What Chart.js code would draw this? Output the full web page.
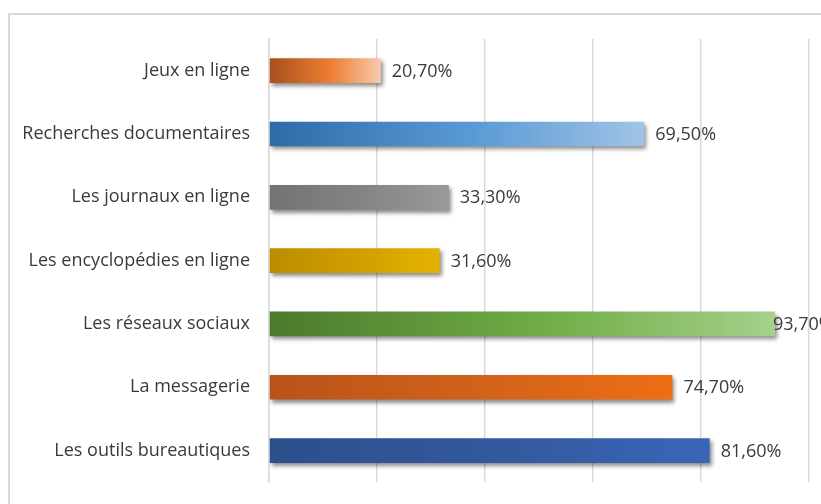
<!DOCTYPE html>
<html>
<head>
<meta charset="utf-8">
<script src="https://cdn.jsdelivr.net/npm/chart.js@4"></script>
<style>
html,body{margin:0;padding:0;background:#fff;}
#wrap{position:relative;width:821px;height:504px;}
</style>
</head>
<body>
<div id="wrap"><canvas id="c" width="821" height="504"></canvas></div>
<script>
const categories = ["Jeux en ligne","Recherches documentaires","Les journaux en ligne","Les encyclopédies en ligne","Les réseaux sociaux","La messagerie","Les outils bureautiques"];
const values = [20.7, 69.5, 33.3, 31.6, 93.7, 74.7, 81.6];
const valueLabels = ["20,70%","69,50%","33,30%","31,60%","93,70%","74,70%","81,60%"];
const gradientStops = [
  ["#A8501C","#ED7D31","#F8CBAD"],
  ["#2E6BA6","#5B9BD5","#A0C4E6"],
  ["#737373","#858585","#9A9A9A"],
  ["#BC8C00","#D1A000","#E6B200"],
  ["#4C7A2C","#70AD47","#A6D08B"],
  ["#B8531A","#D3631A","#EE6E14"],
  ["#2C4F8C","#33599F","#3B66B8"]
];
const FONT = "'Open Sans', sans-serif";

const frame = {
  id:'frame',
  beforeDraw(chart){
    const c = chart.ctx;
    c.save();
    c.strokeStyle = '#D9D9D9';
    c.lineWidth = 2;
    c.strokeRect(9, 14, 900, 600);
    c.restore();
  }
};
const shadow = {
  id:'shadow',
  beforeDatasetDraw(chart){
    const c = chart.ctx;
    c.save();
    c.shadowColor = 'rgba(0,0,0,0.45)';
    c.shadowOffsetX = 2;
    c.shadowOffsetY = 3;
    c.shadowBlur = 4;
  },
  afterDatasetDraw(chart){
    chart.ctx.restore();
  }
};
const valueLabelPlugin = {
  id:'valueLabels',
  afterDatasetsDraw(chart){
    const c = chart.ctx;
    const meta = chart.getDatasetMeta(0);
    c.save();
    c.font = "18px " + FONT;
    c.fillStyle = '#3A3A3A';
    c.textBaseline = 'middle';
    c.textAlign = 'left';
    meta.data.forEach((el, i) => {
      const t = valueLabels[i];
      const w = c.measureText(t).width;
      let x = el.x + 11;
      if (x + w > chart.width + 2) x = el.x - 2;
      c.fillText(t, x, el.y + 1);
    });
    c.restore();
  }
};

new Chart(document.getElementById('c'), {
  type:'bar',
  data:{
    labels:categories,
    datasets:[{
      data:values,
      backgroundColor(ctx){
        const chart = ctx.chart;
        if (!chart.chartArea) return gradientStops[ctx.dataIndex][1];
        const xs = chart.scales.x;
        const x0 = xs.getPixelForValue(0);
        const x1 = xs.getPixelForValue(values[ctx.dataIndex]);
        const g = chart.ctx.createLinearGradient(x0,0,x1,0);
        const s = gradientStops[ctx.dataIndex];
        g.addColorStop(0,s[0]); g.addColorStop(0.55,s[1]); g.addColorStop(1,s[2]);
        return g;
      },
      borderWidth:0,
      barPercentage:0.39,
      categoryPercentage:1
    }]
  },
  options:{
    indexAxis:'y',
    responsive:false,
    animation:false,
    layout:{padding:{left:0,right:12,top:39,bottom:19}},
    plugins:{legend:{display:false},tooltip:{enabled:false}},
    scales:{
      x:{
        min:0,max:100,
        ticks:{display:false,stepSize:20},
        grid:{color:'#D9D9D9',lineWidth:1.5,drawTicks:false},
        border:{display:false},
        afterFit(s){s.height=0;}
      },
      y:{
        ticks:{color:'#3A3A3A',font:{family:FONT,size:18},padding:11},
        grid:{display:false},
        border:{display:true,color:'#D9D9D9',width:1.5},
        afterFit(s){s.width=269;}
      }
    }
  },
  plugins:[frame,shadow,valueLabelPlugin]
});
</script>
</body>
</html>
